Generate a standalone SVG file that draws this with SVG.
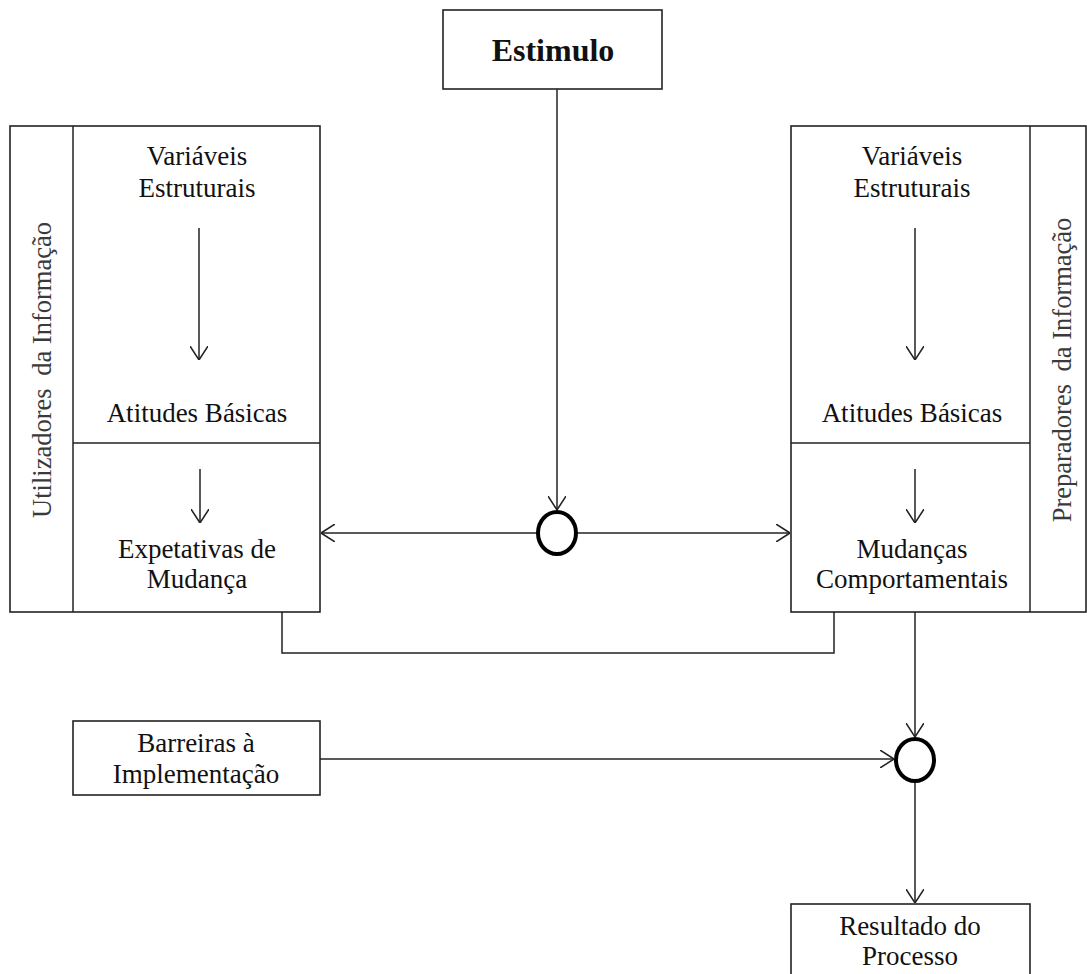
<svg xmlns="http://www.w3.org/2000/svg" width="1087" height="974" viewBox="0 0 1087 974">
<style>
.box{fill:#fff;stroke:#222;stroke-width:1.6}
.ln{fill:none;stroke:#222;stroke-width:1.5}
.t{font-family:"Liberation Serif","Times New Roman",serif;font-size:27px;fill:#111;text-anchor:middle}
.v{font-family:"Liberation Serif","Times New Roman",serif;font-size:26.5px;fill:#3a3a3a;text-anchor:middle}
.b{font-family:"Liberation Serif","Times New Roman",serif;font-size:32px;font-weight:bold;fill:#111;text-anchor:middle}
.c{fill:#fff;stroke:#000;stroke-width:4}
</style>
<defs>
<marker id="arr" viewBox="0 0 14 18" refX="14" refY="9" markerWidth="14" markerHeight="18" orient="auto" markerUnits="userSpaceOnUse">
<path d="M0,0 L14,9 L0,18" fill="none" stroke="#222" stroke-width="1.5"/>
</marker>
</defs>
<rect width="1087" height="974" fill="#fff"/>

<g id="estimulo">
<rect class="box" x="443" y="10" width="219" height="79"/>
<text class="b" x="553" y="61">Estimulo</text>
</g>

<g id="utilizadores">
<rect class="box" x="10" y="126" width="310" height="486"/>
<line class="ln" x1="73" y1="126" x2="73" y2="612"/>
<line class="ln" x1="73" y1="443" x2="320" y2="443"/>
<text class="v" transform="translate(51,370) rotate(-90)">Utilizadores <tspan dx="6">da Informação</tspan></text>
<text class="t" x="197" y="165">Variáveis</text>
<text class="t" x="197" y="197">Estruturais</text>
<line class="ln" x1="199" y1="228" x2="199" y2="360" marker-end="url(#arr)"/>
<text class="t" x="197" y="422">Atitudes Básicas</text>
<line class="ln" x1="200" y1="469" x2="200" y2="523" marker-end="url(#arr)"/>
<text class="t" x="197" y="558">Expetativas de</text>
<text class="t" x="197" y="588">Mudança</text>
</g>

<g id="preparadores">
<rect class="box" x="791" y="126" width="295" height="486"/>
<line class="ln" x1="1030" y1="126" x2="1030" y2="612"/>
<line class="ln" x1="791" y1="443" x2="1030" y2="443"/>
<text class="v" transform="translate(1071,370) rotate(-90)">Preparadores <tspan dx="6">da Informação</tspan></text>
<text class="t" x="912" y="165">Variáveis</text>
<text class="t" x="912" y="197">Estruturais</text>
<line class="ln" x1="915" y1="228" x2="915" y2="360" marker-end="url(#arr)"/>
<text class="t" x="912" y="422">Atitudes Básicas</text>
<line class="ln" x1="915" y1="469" x2="915" y2="523" marker-end="url(#arr)"/>
<text class="t" x="912" y="558">Mudanças</text>
<text class="t" x="912" y="588">Comportamentais</text>
</g>

<g id="barreiras">
<rect class="box" x="73" y="721" width="247" height="74"/>
<text class="t" x="196" y="752">Barreiras à</text>
<text class="t" x="196" y="783">Implementação</text>
</g>

<g id="resultado">
<rect class="box" x="791" y="904" width="239" height="80"/>
<text class="t" x="910" y="935">Resultado do</text>
<text class="t" x="910" y="965">Processo</text>
</g>

<g id="connectors">
<line class="ln" x1="557" y1="89" x2="557" y2="510" marker-end="url(#arr)"/>
<line class="ln" x1="538" y1="533" x2="321" y2="533" marker-end="url(#arr)"/>
<line class="ln" x1="576" y1="533" x2="790" y2="533" marker-end="url(#arr)"/>
<polyline class="ln" points="282,612 282,653 834,653 834,612"/>
<line class="ln" x1="915" y1="612" x2="915" y2="737" marker-end="url(#arr)"/>
<line class="ln" x1="320" y1="759" x2="894" y2="759" marker-end="url(#arr)"/>
<line class="ln" x1="915" y1="783" x2="915" y2="903" marker-end="url(#arr)"/>
</g>

<g id="junction1"><ellipse class="c" cx="557" cy="533" rx="19" ry="21"/></g>
<g id="junction2"><ellipse class="c" cx="915" cy="760" rx="19" ry="21"/></g>
</svg>
